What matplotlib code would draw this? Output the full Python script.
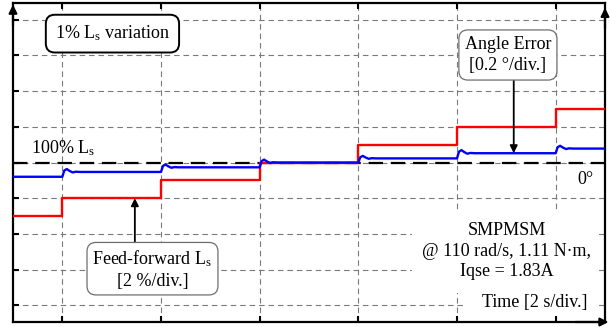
import numpy as np
import matplotlib
matplotlib.use("Agg")
import matplotlib.pyplot as plt
from matplotlib.patches import Rectangle

plt.rcParams["font.family"] = ["Liberation Serif", "DejaVu Serif"]
plt.rcParams["mathtext.fontset"] = "custom"
plt.rcParams["mathtext.rm"] = "Liberation Serif"
plt.rcParams["mathtext.it"] = "Liberation Serif:italic"

# step instants [s] and levels before the first step / after each step
step_times = [0, 2, 4, 6, 8, 10]
ff_ls_pct = [-3, -2, -1, 0, 1, 2, 3]              # feed-forward Ls deviation [%]
angle_err_deg = [-0.080, -0.053, -0.027, 0.0, 0.023, 0.052, 0.078]  # [deg]

# small settling bump of the angle error after each step
bump_dt = [0.0, 0.04, 0.09, 0.15, 0.21, 0.27, 0.36]
bump_frac = [0.0, 1.3, 1.6, 1.2, 0.9, 1.05, 1.0]

t_start, t_end = -1, 11
pct_per_div = 2.0
deg_per_div = 0.2
half_divs = 4.47

# build traces
red_t = [t_start] + step_times + [t_end]
red_y = ff_ls_pct + [ff_ls_pct[-1]]

blue_t, blue_y = [t_start], [angle_err_deg[0]]
for k, ts in enumerate(step_times):
    prev, new = angle_err_deg[k], angle_err_deg[k + 1]
    for dt, f in zip(bump_dt, bump_frac):
        blue_t.append(ts + dt)
        blue_y.append(prev + f * (new - prev))
blue_t.append(t_end)
blue_y.append(angle_err_deg[-1])

fig = plt.figure(figsize=(6.1, 3.27), dpi=100)
ax = fig.add_axes([13 / 610, 5 / 327, 592 / 610, 319 / 327])
ax.set_xlim(t_start, t_end)
ax.set_ylim(-half_divs * pct_per_div, half_divs * pct_per_div)
ax.set_xticks(np.arange(0, 11, 2))
ax.set_yticks(np.arange(-8, 9, 2))
ax.set_xticklabels([])
ax.set_yticklabels([])
ax.tick_params(direction="in", length=4.5, width=1.5, top=True, right=True,
               left=True, bottom=True, color="k")
ax.grid(True, color="#7a7a7a", lw=0.8, ls=(0, (5, 3.5)))
for s in ax.spines.values():
    s.set_linewidth(1.6)
    s.set_color("k")

ax.axhline(0, color="k", lw=1.6, ls=(0, (6.5, 3.5)), zorder=2)
ax.plot(red_t, red_y, color="#ff0000", lw=1.7, drawstyle="steps-post", zorder=3)

ax2 = ax.twinx()
ax2.set_ylim(-half_divs * deg_per_div, half_divs * deg_per_div)
ax2.set_yticks([])
for s in ax2.spines.values():
    s.set_visible(False)
ax2.plot(blue_t, blue_y, color="#0000ff", lw=1.7, zorder=3)

# axis arrows
arrow = dict(arrowstyle="-|>", color="k", lw=1.6, mutation_scale=12,
             shrinkA=0, shrinkB=0)
ax2.annotate("", xy=(0, 0.995), xytext=(0, 0.93), xycoords="axes fraction",
             arrowprops=arrow, annotation_clip=False)
ax2.annotate("", xy=(1, 0.985), xytext=(1, 0.92), xycoords="axes fraction",
             arrowprops=arrow, annotation_clip=False)
ax2.annotate("", xy=(1.006, 0), xytext=(0.95, 0), xycoords="axes fraction",
             arrowprops=arrow, annotation_clip=False)

# white patches behind the lower right labels
ax2.add_patch(Rectangle((0.674, 0.091), 0.3125, 0.26, transform=ax2.transAxes,
                        facecolor="white", edgecolor="none", zorder=4))
ax2.add_patch(Rectangle((0.760, 0.019), 0.2265, 0.12, transform=ax2.transAxes,
                        facecolor="white", edgecolor="none", zorder=4))

fs = 13
ax2.text(0.168, 0.904, r"1% $\mathrm{L_s}$ variation", transform=ax2.transAxes,
         ha="center", va="center", fontsize=fs, zorder=6,
         bbox=dict(boxstyle="round,pad=0.5,rounding_size=0.5", fc="white",
                   ec="k", lw=1.4))
ax2.text(0.0304, 0.5455, r"100% $\mathrm{L_s}$", transform=ax2.transAxes,
         ha="left", va="center", fontsize=fs, zorder=6)
ax2.text(0.98, 0.448, "0°", transform=ax2.transAxes, ha="right", va="center",
         fontsize=fs, zorder=6)
ax2.text(0.834, 0.222, "SMPMSM\n@ 110 rad/s, 1.11 N·m,\nIqse = 1.83A",
         transform=ax2.transAxes, ha="center", va="center", fontsize=fs,
         linespacing=1.28, zorder=6)
ax2.text(0.882, 0.0596, "Time [2 s/div.]", transform=ax2.transAxes,
         ha="center", va="center", fontsize=fs, zorder=6)

# labelled arrows
pointer = dict(arrowstyle="-|>", color="k", lw=1.3, mutation_scale=11,
               shrinkA=0, shrinkB=0)
ax2.annotate("", xy=(9.15, angle_err_deg[5]), xytext=(9.15, 0.595),
             arrowprops=pointer, zorder=5)
ax.annotate("", xy=(1.47, ff_ls_pct[1]), xytext=(1.47, -4.7),
            arrowprops=pointer, zorder=5)

ax2.text(0.836, 0.837, "Angle Error\n[0.2 °/div.]", transform=ax2.transAxes,
         ha="center", va="center", fontsize=fs, linespacing=1.35, zorder=6,
         bbox=dict(boxstyle="round,pad=0.32,rounding_size=0.5", fc="white",
                   ec="#6e6e6e", lw=0.9))
ax2.text(0.2356, 0.166, "Feed-forward $\\mathrm{L_s}$\n[2 %/div.]",
         transform=ax2.transAxes, ha="center", va="center", fontsize=fs,
         linespacing=1.25, zorder=6,
         bbox=dict(boxstyle="round,pad=0.3,rounding_size=0.5", fc="white",
                   ec="#6e6e6e", lw=0.9))

fig.savefig("out.png", dpi=100)
